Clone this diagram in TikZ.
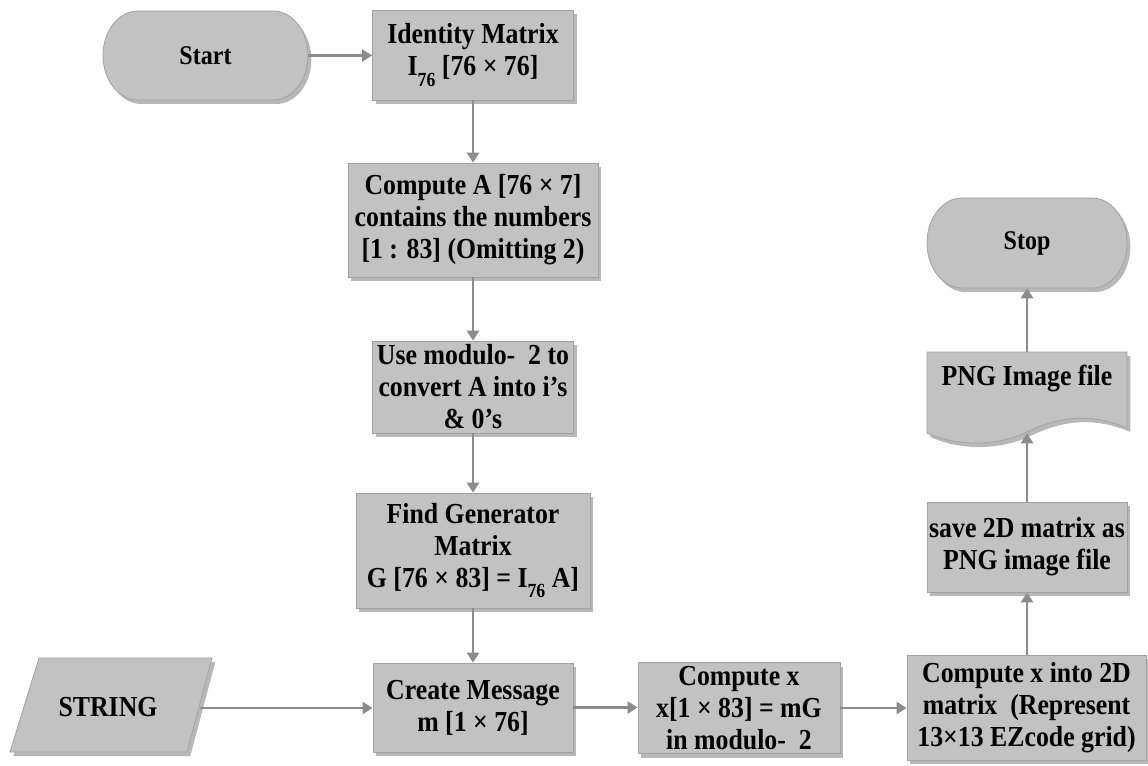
\documentclass[tikz,border=0pt]{standalone}
\usepackage{fontspec}
\setmainfont[FakeStretch=0.89]{Liberation Serif}
\usetikzlibrary{arrows.meta,shadows}
\def\pxu{0.75pt}
\newcommand\subn[1]{\raisebox{-0.36em}{\fontsize{15}{15}\selectfont #1}}
\definecolor{boxfill}{HTML}{C2C2C2}
\definecolor{boxline}{HTML}{A2A2A2}
\definecolor{arrowgray}{HTML}{8C8C8C}
\tikzset{
  shad/.style={drop shadow={shadow xshift=2.5pt,shadow yshift=-3pt,fill=black,opacity=0.28}},
  txt/.style={font=\fontsize{21.75}{24}\selectfont\bfseries, align=center, inner sep=0pt, text=black},
  procbox/.style={rectangle, draw=boxline, fill=boxfill, line width=0.6pt, shad, txt},
  pilltxt/.style={rectangle, inner sep=0pt, align=center, text=black, font=\fontsize{20.25}{24}\selectfont\bfseries},
  shapebox/.style={draw=boxline, fill=boxfill, line width=0.6pt, shad},
  flow/.style={draw=arrowgray, line width=2pt, -{Triangle[length=7.5pt,width=9pt]}},
}
\begin{document}
\begin{tikzpicture}[x=0.75pt,y=-0.75pt]
\useasboundingbox (0,0) rectangle (1148,766);

% start (terminator)
\path[shapebox] (138,11) -- (273,11)
  arc[start angle=90, end angle=-90, x radius=26.25pt, y radius=33.375pt] -- (138,100)
  arc[start angle=270, end angle=90, x radius=26.25pt, y radius=33.375pt] -- cycle;
\node[pilltxt, minimum width=205*\pxu, minimum height=89*\pxu] (start) at (205.5,55.5) {Start};

% central column
\node[procbox, minimum width=201*\pxu, minimum height=90*\pxu] (ident) at (473,55) {Identity Matrix\\ I\subn{76} [76 × 76]};
\node[procbox, minimum width=250*\pxu, minimum height=114*\pxu] (compA) at (473,220) {Compute A [76 × 7]\\ contains the numbers\\ {}[1 : 83] (Omitting 2)};
\node[procbox, minimum width=201*\pxu, minimum height=92*\pxu] (mod) at (473,387) {Use modulo-\ \ 2 to\\ convert A into i’s\\ \& 0’s};
\node[procbox, minimum width=234*\pxu, minimum height=115*\pxu] (gen) at (473,550.5) {Find Generator\\ Matrix\\ G [76 × 83] = I\subn{76} A]};
\node[procbox, minimum width=200*\pxu, minimum height=89*\pxu] (msg) at (473,707.5) {Create Message\\ m [1 × 76]};

% bottom row
\node[procbox, minimum width=202*\pxu, minimum height=91*\pxu] (cx) at (739,708) {Compute x\\ x[1 × 83] = mG\\ in modulo-\ \ 2};
\node[procbox, minimum width=239*\pxu, minimum height=105*\pxu] (c2d) at (1026.5,707.5) {Compute x into 2D\\ matrix\ \ (Represent\\ 13×13 EZcode grid)};

% right column
\node[procbox, minimum width=200*\pxu, minimum height=90*\pxu] (save) at (1027,547) {save 2D matrix as\\ PNG image file};
\path[shapebox] (927,352) -- (1127,352) -- (1127,428)
  .. controls (1085,410) and (1052,420) .. (1027,432)
  .. controls (1000,445) and (960,448) .. (927,433) -- cycle;
\node[inner sep=0pt, minimum width=200*\pxu, minimum height=81*\pxu] (png) at (1027,392.5) {};
\node[txt] (pngtxt) at (1027,378) {PNG Image file};

% stop (terminator)
\path[shapebox] (962,198) -- (1092,198)
  arc[start angle=90, end angle=-90, x radius=26.25pt, y radius=33.75pt] -- (962,288)
  arc[start angle=270, end angle=90, x radius=26.25pt, y radius=33.75pt] -- cycle;
\node[pilltxt, minimum width=200*\pxu, minimum height=90*\pxu] (stop) at (1027,243) {Stop};

% STRING input
\path[shapebox] (39,658) -- (212,658) -- (187,752) -- (10,752) -- cycle;
\node[txt] (string) at (108,707) {STRING};
\coordinate (stringR) at (200,708);

% connectors
\draw[flow] (start.east) -- (start.east -| ident.west);
\draw[flow] (ident) -- (compA);
\draw[flow] (compA) -- (mod);
\draw[flow] (mod) -- (gen);
\draw[flow] (gen) -- (msg);
\draw[flow] (stringR) -- (stringR -| msg.west);
\draw[flow] (msg) -- (msg -| cx.west);
\draw[flow] (cx) -- (cx -| c2d.west);
\draw[flow] (c2d.north -| save) -- (save);
\draw[flow] (save) -- (png.south);
\draw[flow] (png) -- (stop);
\end{tikzpicture}
\end{document}
